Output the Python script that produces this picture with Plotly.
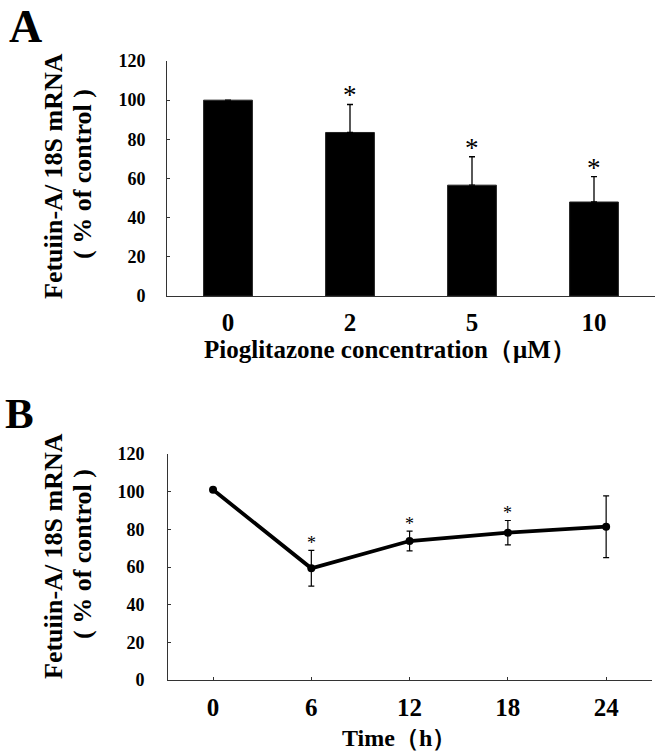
import plotly.graph_objects as go

# ---- Panel A data ----
conc_labels = ["0", "2", "5", "10"]
mrna_conc = [100, 83.5, 56.6, 48]
mrna_conc_err = [0, 14.3, 14.5, 13]
conc_sig = ["", "*", "*", "*"]

# ---- Panel B data ----
time_h = [0, 6, 12, 18, 24]
mrna_time = [101, 59.3, 73.8, 78.2, 81.4]
mrna_time_err = [0, 9.5, 5.2, 6.5, 16.4]
time_sig = ["", "*", "*", "*", ""]

y_ticks = [0, 20, 40, 60, 80, 100, 120]
time_ticks = [0, 6, 12, 18, 24]

W, H = 661, 755
SERIF = "Liberation Serif, Times New Roman, serif"
AXC = "#333333"

fig = go.Figure()

fig.add_trace(go.Bar(
    x=conc_labels, y=mrna_conc, width=0.4,
    marker=dict(color="black", line=dict(color="#222", width=1)),
    error_y=dict(type="data", array=mrna_conc_err, arrayminus=[0]*len(mrna_conc_err),
                 symmetric=False, color="black", thickness=1.3, width=3),
    xaxis="x", yaxis="y", showlegend=False,
))

fig.add_trace(go.Scatter(
    x=time_h, y=mrna_time, mode="lines+markers",
    line=dict(color="black", width=3.8),
    marker=dict(color="black", size=8),
    error_y=dict(type="data", array=mrna_time_err, color="black", thickness=1.2, width=3),
    xaxis="x2", yaxis="y2", showlegend=False,
))

ann = []
for i, (v, e, s) in enumerate(zip(mrna_conc, mrna_conc_err, conc_sig)):
    if s:
        ann.append(dict(x=i, y=v + e, xref="x", yref="y", text=s, showarrow=False,
                        xanchor="center", yanchor="middle", yshift=9,
                        font=dict(family=SERIF, size=27, color="black")))
for t, v, e, s in zip(time_h, mrna_time, mrna_time_err, time_sig):
    if s:
        ann.append(dict(x=t, y=v + e, xref="x2", yref="y2", text=s, showarrow=False,
                        xanchor="center", yanchor="middle", yshift=7,
                        font=dict(family=SERIF, size=18, color="black")))

def px_x(p):
    return p / W

def px_y(p):
    return 1 - p / H

# panel letters
ann.append(dict(x=px_x(7), y=px_y(-1), xref="paper", yref="paper", xanchor="left", yanchor="top",
                text="<b>A</b>", showarrow=False, font=dict(family=SERIF, size=46, color="black")))
ann.append(dict(x=px_x(3), y=px_y(388), xref="paper", yref="paper", xanchor="left", yanchor="top",
                text="<b>B</b>", showarrow=False, font=dict(family=SERIF, size=43, color="black")))

# y titles (two lines each)
for cy in (176, 556):
    ann.append(dict(x=px_x(53), y=px_y(cy), xref="paper", yref="paper", textangle=-90,
                    xanchor="center", yanchor="middle",
                    text="<b>Fetuiin-A/ 18S mRNA</b>", showarrow=False,
                    font=dict(family=SERIF, size=26, color="black")))
    ann.append(dict(x=px_x(82), y=px_y(cy - 2), xref="paper", yref="paper", textangle=-90,
                    xanchor="center", yanchor="middle",
                    text="<b>( % of control )</b>", showarrow=False,
                    font=dict(family=SERIF, size=26, color="black")))

# x titles
ann.append(dict(x=px_x(390), y=px_y(350), xref="paper", yref="paper",
                xanchor="center", yanchor="middle",
                text="<b>Pioglitazone concentration（μM）</b>", showarrow=False,
                font=dict(family=SERIF, size=25, color="black")))
ann.append(dict(x=px_x(399), y=px_y(738), xref="paper", yref="paper",
                xanchor="center", yanchor="middle",
                text="<b>Time（h）</b>", showarrow=False,
                font=dict(family=SERIF, size=24, color="black")))

tickfont_y = dict(family=SERIF, size=18, color="black", weight="bold")
tickfont_x = dict(family=SERIF, size=25, color="black", weight="bold")

fig.update_layout(
    width=W, height=H,
    margin=dict(l=0, r=0, t=0, b=0, autoexpand=False),
    paper_bgcolor="white", plot_bgcolor="white",
    annotations=ann,
    xaxis=dict(domain=[px_x(167), px_x(655)], anchor="y", type="category",
               range=[-0.5, 3.5], showline=True, linecolor=AXC, linewidth=1,
               ticks="", showgrid=False, tickfont=tickfont_x, ticklabelstandoff=4),
    yaxis=dict(domain=[px_y(296), px_y(61)], anchor="x", range=[0, 120],
               tickvals=y_ticks, showline=True, linecolor=AXC, linewidth=1,
               ticks="inside", ticklen=3, tickcolor=AXC, showgrid=False, zeroline=False,
               tickfont=tickfont_y, ticklabelstandoff=17),
    xaxis2=dict(domain=[px_x(168), px_x(652)], anchor="y2", range=[-2.75, 26.8],
                tickvals=time_ticks, showline=True, linecolor=AXC, linewidth=1,
                ticks="inside", ticklen=3, tickcolor=AXC, showgrid=False, zeroline=False,
                tickfont=tickfont_x, ticklabelstandoff=5),
    yaxis2=dict(domain=[px_y(680), px_y(454)], anchor="x2", range=[0, 120],
                tickvals=y_ticks, showline=True, linecolor=AXC, linewidth=1,
                ticks="inside", ticklen=3, tickcolor=AXC, showgrid=False, zeroline=False,
                tickfont=tickfont_y, ticklabelstandoff=19),
)

fig.write_html("out.html", config={"displayModeBar": False},
               post_script="document.body.style.margin='0';")
